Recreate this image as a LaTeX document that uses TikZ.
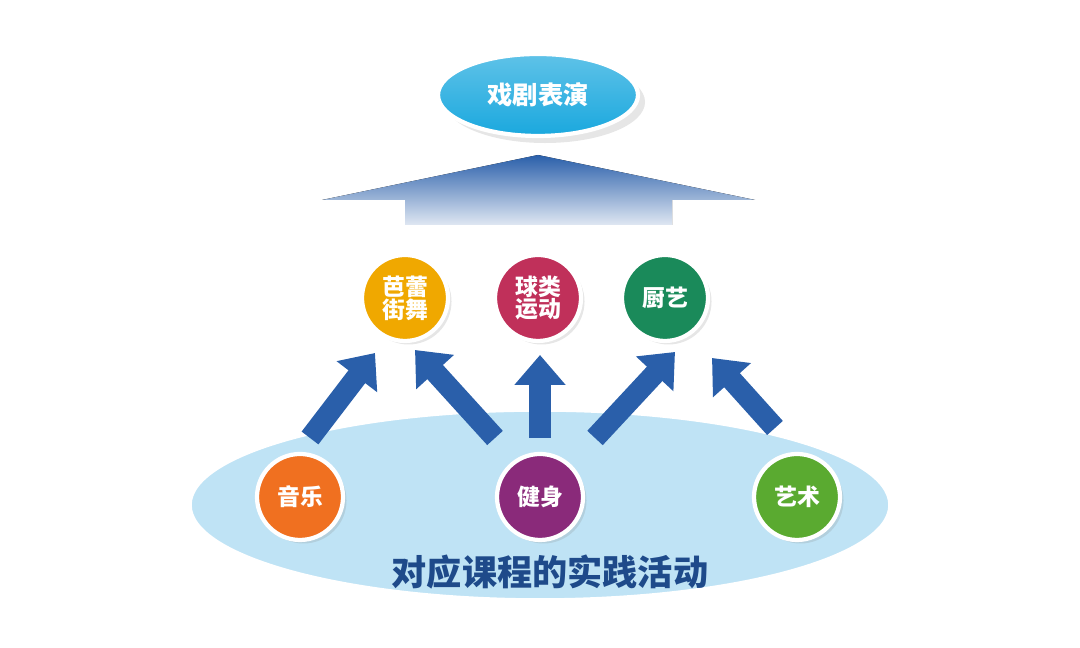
\documentclass[tikz,border=0pt]{standalone}
\usepackage{fontspec}
\newfontfamily\cjk{Noto Sans CJK SC}
\usetikzlibrary{shadows,arrows.meta,shapes.geometric}

\definecolor{skyblue}{HTML}{1AA8DE}
\definecolor{paleblue}{HTML}{BFE3F5}
\definecolor{arrowblue}{HTML}{2A5FAA}
\definecolor{darkblue}{HTML}{1E4A8A}

\tikzset{
  dot/.style={circle,draw=white,line width=1.2pt,minimum size=0.86cm,inner sep=0pt,
    text=white,font=\cjk\bfseries\fontsize{6.5}{7.5}\selectfont,align=center,
    drop shadow={opacity=0.2,shadow xshift=1pt,shadow yshift=-1pt}},
  uparrow/.style={line width=6pt,-{Triangle[width=14pt,length=8.5pt]},arrowblue}
}

\begin{document}
\begin{tikzpicture}
\useasboundingbox (0,0) rectangle (10.8,6.48);

% bottom ellipse
\node[ellipse,minimum width=7.0cm,minimum height=1.9cm,inner sep=0pt,draw=white,
  line width=1pt,fill=paleblue] (base) at (5.4,1.43) {};
\node[text=darkblue,font=\cjk\bfseries\fontsize{10}{12}\selectfont] (basetext) at (5.5,0.76) {对应课程的实践活动};

% big arrow
\fill[top color=arrowblue,bottom color=arrowblue!15] (3.22,4.48) -- (5.38,4.93) -- (7.55,4.48) -- (6.72,4.48) -- (6.72,4.23) -- (4.05,4.23) -- (4.05,4.48) -- cycle;

% top ellipse
\node[ellipse,minimum width=2.0cm,minimum height=0.82cm,inner sep=0pt,draw=white,line width=1.2pt,
  top color=skyblue!70,bottom color=skyblue,text=white,font=\cjk\bfseries\fontsize{7.2}{9}\selectfont,
  drop shadow={opacity=0.2,shadow xshift=2pt,shadow yshift=-2pt}] (drama) at (5.38,5.53) {戏剧表演};

% middle row
\node[dot,fill={rgb,255:red,240;green,168;blue,0}] (ballet) at (4.05,3.50) {芭蕾\\[-1pt]街舞};
\node[dot,fill={rgb,255:red,192;green,48;blue,90}] (ball) at (5.38,3.50) {球类\\[-1pt]运动};
\node[dot,fill={rgb,255:red,26;green,138;blue,90}] (cook) at (6.65,3.50) {厨艺};

% bottom row
\node[dot,fill={rgb,255:red,240;green,112;blue,32}] (music) at (3.00,1.51) {音乐};
\node[dot,fill={rgb,255:red,138;green,42;blue,122}] (fit) at (5.40,1.51) {健身};
\node[dot,fill={rgb,255:red,90;green,170;blue,48}] (art) at (7.97,1.51) {艺术};

% arrows
\coordinate (a1) at (3.10,2.10); \coordinate (b1) at (3.75,2.95);
\coordinate (a2) at (4.95,2.10); \coordinate (b2) at (4.15,2.98);
\coordinate (a3) at (5.40,2.10); \coordinate (b3) at (5.40,2.93);
\coordinate (a4) at (5.95,2.10); \coordinate (b4) at (6.75,2.96);
\coordinate (a5) at (7.75,2.20); \coordinate (b5) at (7.12,2.90);
\foreach \s/\e in {a1/b1,a2/b2,a3/b3,a4/b4,a5/b5}
  \draw[uparrow] (\s) -- (\e);
\end{tikzpicture}
\end{document}
